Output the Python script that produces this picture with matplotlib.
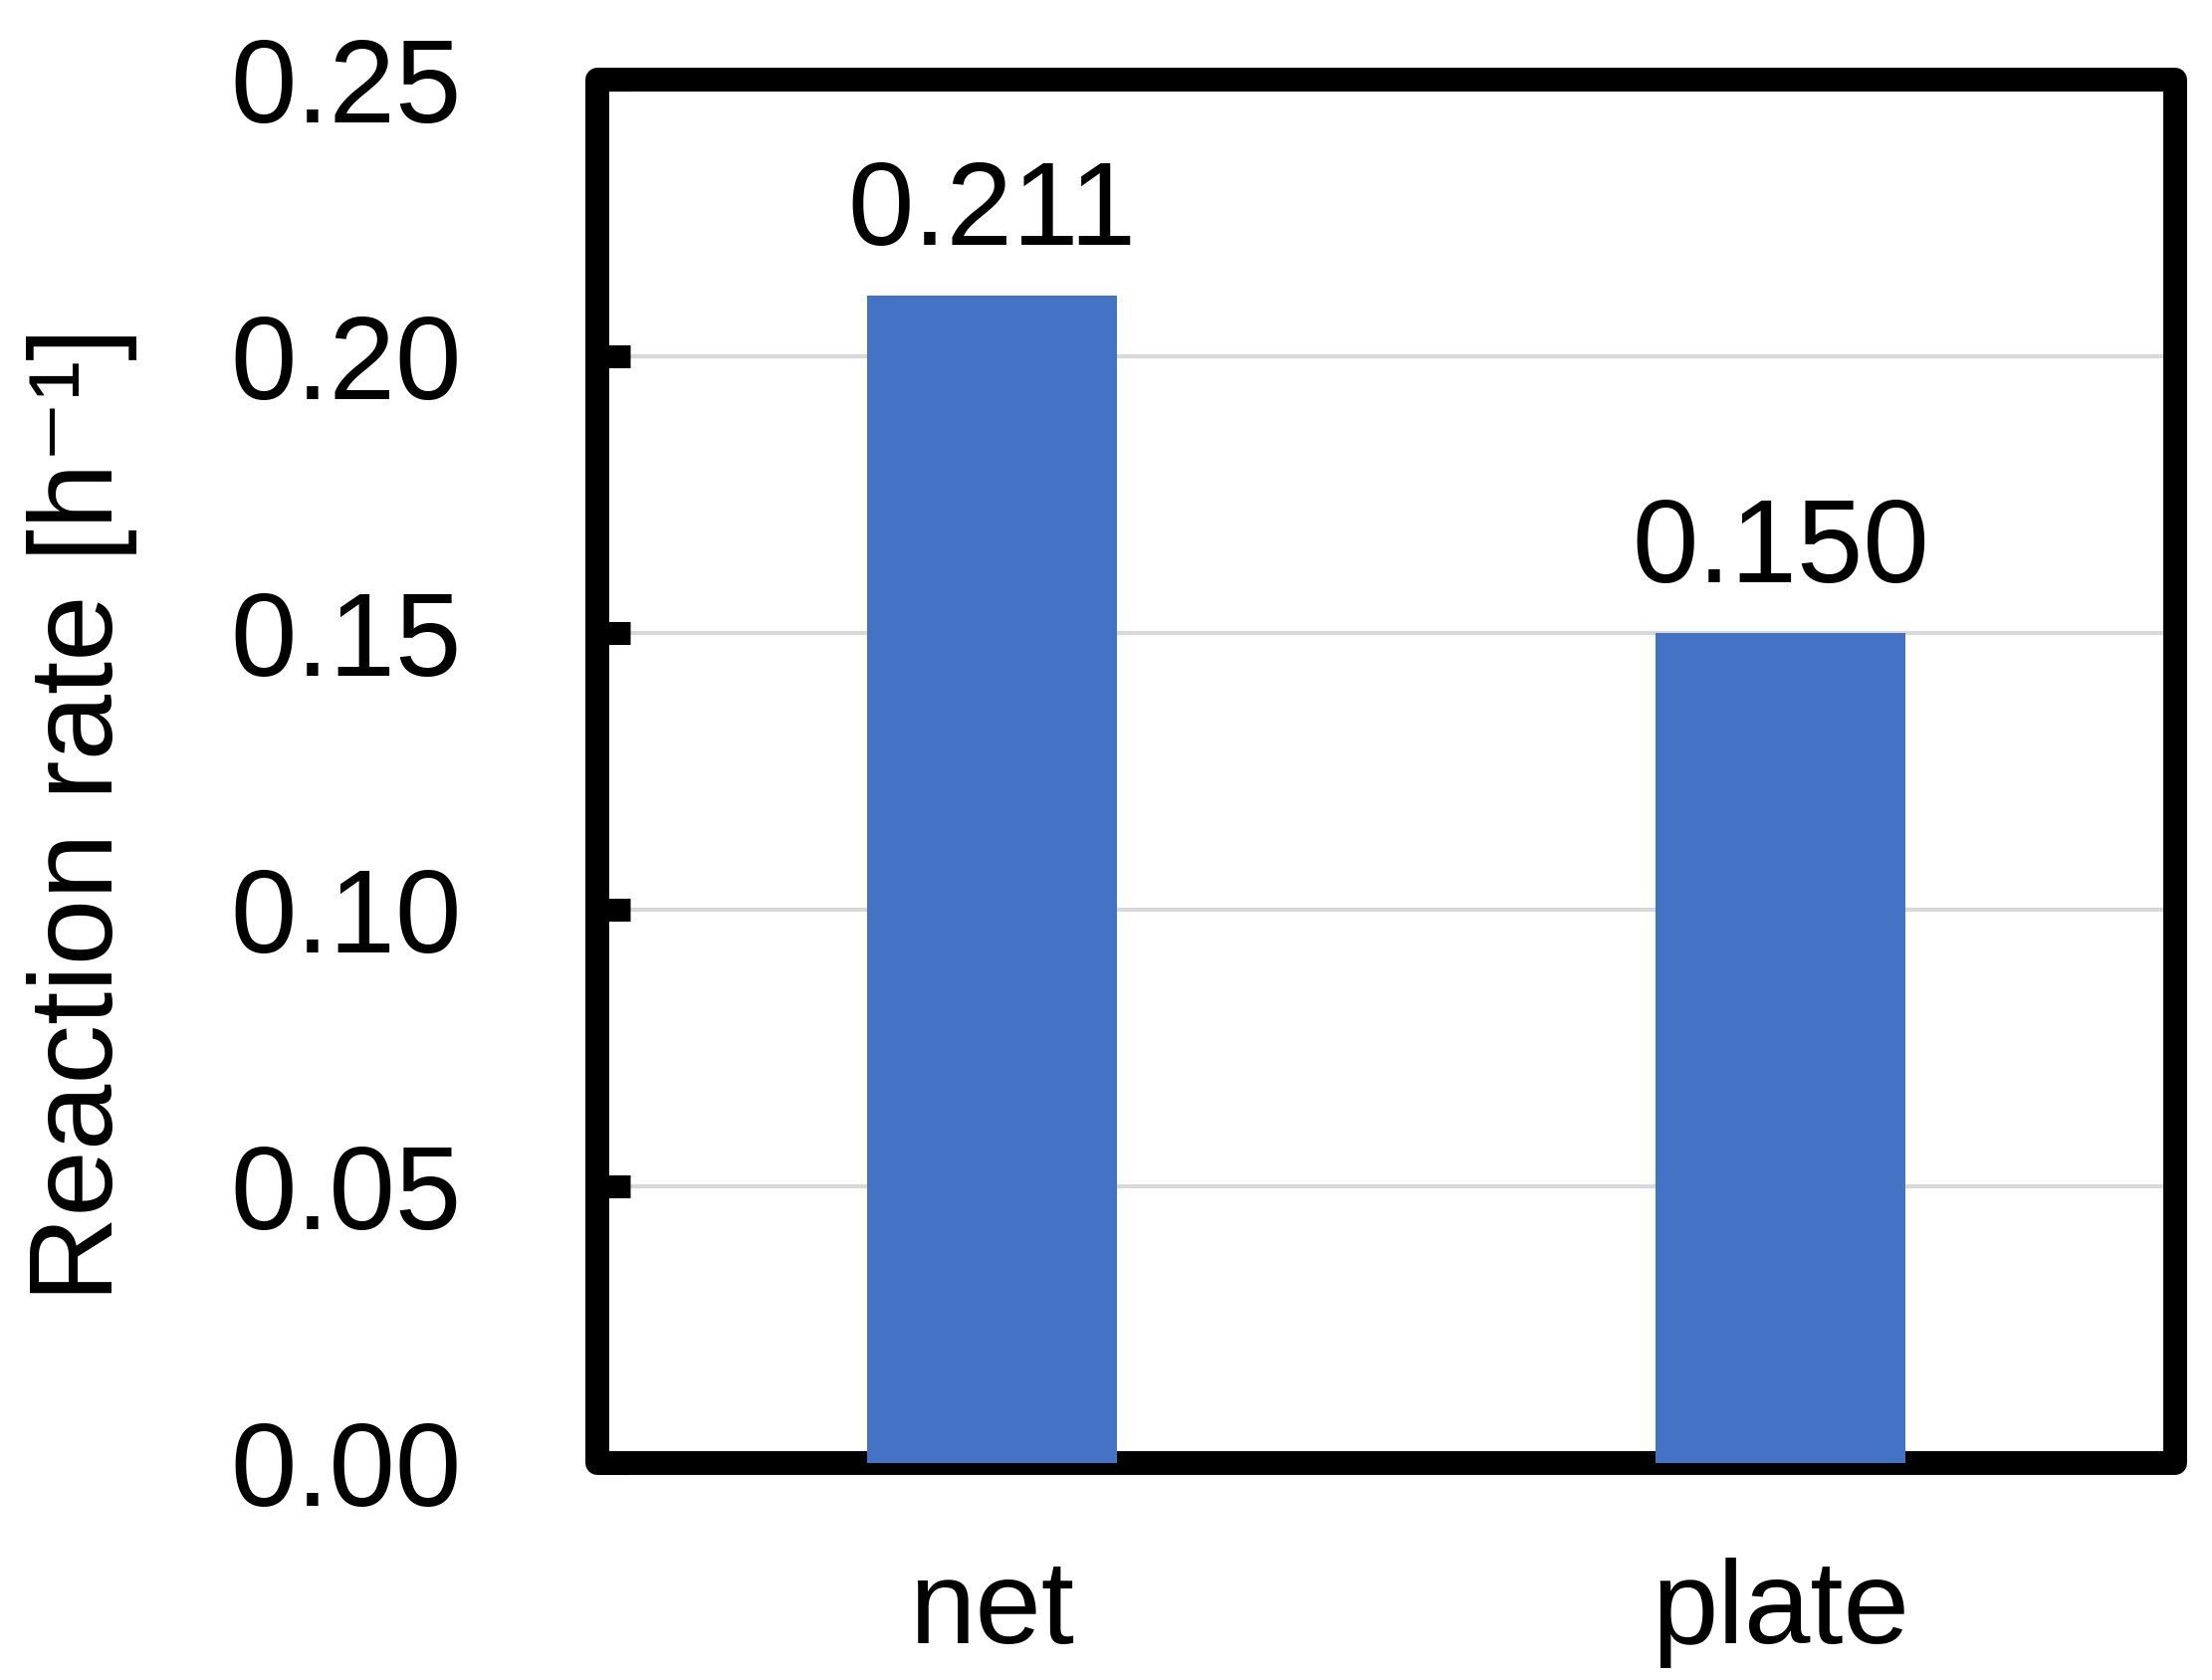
import matplotlib
matplotlib.use('Agg')
import matplotlib.pyplot as plt
from matplotlib.patches import Rectangle

categories = ['net', 'plate']
rates = [0.211, 0.150]
y_ticks = [0.00, 0.05, 0.10, 0.15, 0.20, 0.25]

plt.rcParams['font.family'] = ['Liberation Sans', 'DejaVu Sans']

fig = plt.figure(figsize=(11.11, 8.44), dpi=200)
ax = fig.add_axes([0.2700, 0.1291, 0.9833 - 0.2700, 0.9526 - 0.1291])

x = range(len(categories))
bars = ax.bar(x, rates, width=0.317, color='#4472C4', zorder=3)
ax.bar_label(bars, fmt='%.3f', padding=9.4, fontsize=43)

ax.set_xlim(-0.5, 1.5)
ax.set_ylim(0, 0.25)
ax.set_yticks(y_ticks)
ax.set_yticklabels([f'{t:.2f}' for t in y_ticks])
ax.set_xticks(list(x))
ax.set_xticklabels(categories)

ax.yaxis.grid(True, color='#D9D9D9', linewidth=1.5, zorder=0)
ax.set_axisbelow(True)

ax.tick_params(axis='y', direction='in', length=12, width=8.3, pad=49,
               labelsize=43, color='black')
ax.tick_params(axis='x', length=0, pad=34, labelsize=43)

# frame with rounded corners instead of separate spines
for sp in ax.spines.values():
    sp.set_visible(False)
frame = Rectangle((0, 0), 1, 1, transform=ax.transAxes, fill=False,
                  edgecolor='black', linewidth=8.6, joinstyle='round',
                  clip_on=False, zorder=2)
ax.add_patch(frame)

fig.text(83 / 2222, 1 - 818 / 1688, 'Reaction rate [h\u207b\u00b9]',
         rotation=90, fontsize=43, ha='center', va='center')

fig.savefig('out.png', dpi=200, facecolor='white')
